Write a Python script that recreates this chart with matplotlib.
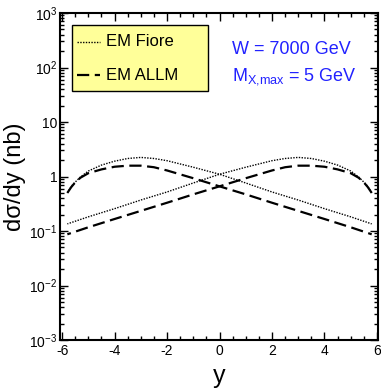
import numpy as np
import matplotlib
matplotlib.use("Agg")
import matplotlib.pyplot as plt
from matplotlib.patches import Rectangle
from matplotlib.lines import Line2D
from matplotlib.ticker import FixedLocator, LogLocator, FuncFormatter, NullFormatter

plt.rcParams['font.family'] = ['Liberation Sans', 'DejaVu Sans']
plt.rcParams['mathtext.fontset'] = 'custom'
plt.rcParams['mathtext.rm'] = 'Liberation Sans'
plt.rcParams['mathtext.it'] = 'Liberation Sans:italic'

# rapidity grid
y_vals = [-5.8, -5.65, -5.5, -5.3, -5.0, -4.5, -4.0, -3.5, -3.0, -2.5, -2.0,
          -1.0, 0.0, 1.0, 2.0, 3.0, 4.0, 5.0, 5.8]

# dsigma/dy (nb), photon emitted from the beam moving towards negative y
fiore_a = [0.50, 0.66, 0.79, 0.98, 1.26, 1.62, 1.91, 2.14, 2.24, 2.14, 1.95,
           1.48, 1.10, 0.76, 0.52, 0.37, 0.257, 0.182, 0.135]
allm_a = [0.50, 0.64, 0.78, 0.95, 1.15, 1.35, 1.51, 1.58, 1.58, 1.48, 1.29,
          0.93, 0.66, 0.47, 0.33, 0.234, 0.166, 0.117, 0.087]
# photon emitted from the opposite beam (y -> -y)
y_vals_b = [-v for v in y_vals]
fiore_b = fiore_a
allm_b = allm_a

legend_labels = ["EM Fiore", "EM ALLM"]
info_lines = [r"W = 7000 GeV", r"M$_{\mathregular{X{,}max}}$ = 5 GeV"]

W, H = 381, 390
fig = plt.figure(figsize=(W / 100, H / 100), dpi=100)
ax = fig.add_axes([60 / W, 1 - 340 / H, 318 / W, 327 / H])

dot_style = dict(color='black', lw=1.0, linestyle=(0, (1, 1)))
dash_style = dict(color='black', lw=1.6, linestyle=(0, (5.5, 2.5)))

ax.plot(y_vals, fiore_a, **dot_style)
ax.plot(y_vals_b, fiore_b, **dot_style)
ax.plot(y_vals, allm_a, **dash_style)
ax.plot(y_vals_b, allm_b, **dash_style)

ax.set_yscale('log')
ax.set_xlim(-6.08, 6.04)
ax.set_ylim(1e-3, 1e3)

ax.xaxis.set_major_locator(FixedLocator([-6, -4, -2, 0, 2, 4, 6]))
ax.xaxis.set_minor_locator(FixedLocator(np.arange(-6, 6.01, 0.5)))
ax.yaxis.set_major_locator(LogLocator(base=10, numticks=10))
ax.yaxis.set_minor_locator(LogLocator(base=10, subs=np.arange(2, 10), numticks=20))
ax.yaxis.set_minor_formatter(NullFormatter())


def ylab(v, pos):
    e = int(round(np.log10(v)))
    if e == 0:
        return "1"
    if e == 1:
        return "10"
    return r"10$^{\mathregular{%d}}$" % e


ax.yaxis.set_major_formatter(FuncFormatter(ylab))
ax.xaxis.set_major_formatter(FuncFormatter(lambda v, p: "%d" % v))

ax.tick_params(which='both', direction='in', top=True, right=True,
               labelsize=10, width=1.0)
ax.tick_params(which='major', length=6)
ax.tick_params(which='minor', length=3)
ax.tick_params(axis='x', pad=3)
ax.tick_params(axis='y', pad=2)
for s in ax.spines.values():
    s.set_linewidth(1.5)

ax.set_ylabel("dσ/dy (nb)", fontsize=17, labelpad=2)
ax.set_xlabel("y", fontsize=18, labelpad=4)

# legend box drawn in figure pixel coordinates (origin top-left)
def fx(px):
    return px / W


def fy(py):
    return 1 - py / H


fig.patches.append(Rectangle((fx(72), fy(91)), fx(208) - fx(72), fy(25) - fy(91),
                             transform=fig.transFigure, facecolor='#ffff99',
                             edgecolor='black', lw=1.0, zorder=5))
rows = [(42, dot_style), (75, dash_style)]
for (py, st), lab in zip(rows, legend_labels):
    fig.lines.append(Line2D([fx(77), fx(100)], [fy(py), fy(py)],
                            transform=fig.transFigure, zorder=6, **st))
    fig.text(fx(106), fy(py), lab, fontsize=12, va='center', ha='left', zorder=6)

ax.text(0.54, 0.875, info_lines[0], transform=ax.transAxes, fontsize=13,
        color='#2222ff', va='baseline', ha='left')
ax.text(0.54, 0.795, info_lines[1], transform=ax.transAxes, fontsize=13,
        color='#2222ff', va='baseline', ha='left')

fig.savefig("out.png", dpi=100)
